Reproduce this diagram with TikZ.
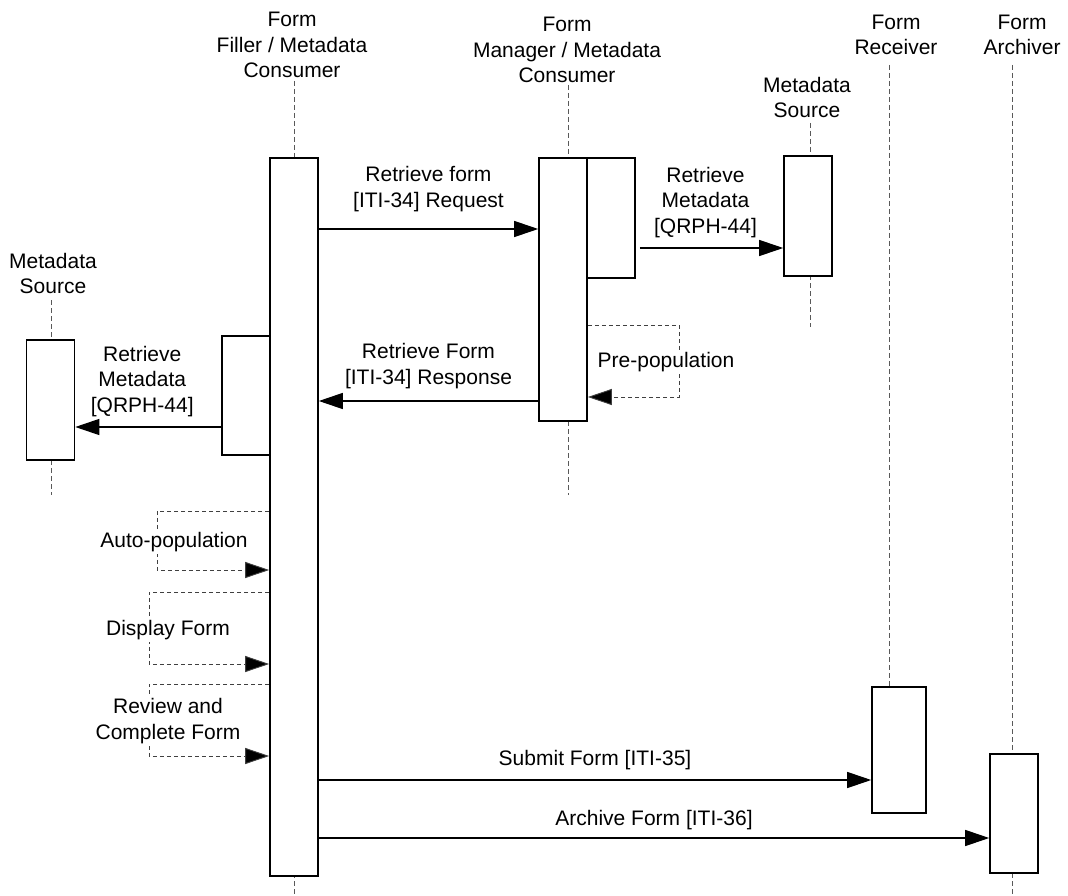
\documentclass[tikz,border=0pt]{standalone}
\usepackage{fontspec}
\setmainfont{Liberation Sans}
\usetikzlibrary{arrows.meta, positioning}

\begin{document}
\begin{tikzpicture}[x=1pt, y=-1pt,
        font=\fontsize{21}{25.5}\selectfont,
        head/.style={align=center, anchor=south, inner sep=0pt},
        actbox/.style={rectangle, draw=black, fill=white, line width=1.6pt, minimum width=48pt, inner sep=0pt, anchor=north},
        life/.style={draw=black!65, line width=1pt, dash pattern=on 5pt off 3pt},
        msg/.style={-{Triangle[length=24pt, width=16pt]}, line width=1.2pt, black},
        selfmsg/.style={-{Triangle[length=24pt, width=16pt, fill=black]}, line width=0.9pt, draw=black!75, dash pattern=on 4pt off 3pt},
        lbl/.style={align=center, inner sep=0pt, text=black},
        looplbl/.style={align=center, fill=white, inner sep=2pt, text=black}
    ]
    \useasboundingbox (0,0) rectangle (1068,896);

    \node[head] (fillerhead) at (292,78) {Form\\Filler / Metadata\\Consumer};
    \node[head] (mgrhead) at (567,83) {Form\\Manager / Metadata\\Consumer};
    \node[head] (msrchead) at (807,118) {Metadata\\Source};
    \node[head] (recvhead) at (896,55) {Form\\Receiver};
    \node[head] (archhead) at (1022,55) {Form\\Archiver};
    \node[head] (msrcLhead) at (53,294) {Metadata\\Source};

    \coordinate (fillertop) at (294,81);
    \coordinate (fillerend) at (294,896);
    \coordinate (mgrtop) at (568,85);
    \coordinate (mgrend) at (568,495);
    \coordinate (msrctop) at (810,123);
    \coordinate (msrcend) at (810,327);
    \coordinate (recvtop) at (889,65);
    \coordinate (archtop) at (1012,65);
    \coordinate (archend) at (1012,896);
    \coordinate (msrcLtop) at (51,300);
    \coordinate (msrcLend) at (51,495);

    \draw[life] (fillertop) -- (fillerend);
    \draw[life] (mgrtop) -- (mgrend);
    \draw[life] (msrctop) -- (msrcend);
    \draw[life] (recvtop) -- (recvtop |- 0,686);
    \draw[life] (archtop) -- (archend);
    \draw[life] (msrcLtop) -- (msrcLend);

    \node[actbox, minimum height=718pt] (filler) at (294,157) {};
    \node[actbox, minimum height=119pt] (fillsub) at (246,335) {};
    \node[actbox, minimum height=263pt] (mgr) at (563,157) {};
    \node[actbox, minimum height=120pt] (mgrsub) at (611,157) {};
    \node[actbox, minimum height=120pt] (msrc) at (808,155) {};
    \node[actbox, minimum height=120pt] (msrcL) at (50.5,339) {};
    \node[actbox, minimum width=54pt, minimum height=126pt] (recv) at (899,686) {};
    \node[actbox, minimum height=119pt] (arch) at (1014,753) {};

    \draw[msg] (filler.east |- 0,229) -- (mgr.west |- 0,229)
        node[lbl, midway, above=17pt] {Retrieve form\\{[ITI-34]} Request};
    \draw[msg] ([xshift=4pt]mgrsub.east |- 0,248) -- (msrc.west |- 0,248)
        node[lbl, midway, above=10pt, xshift=-6pt] {Retrieve\\Metadata\\{[QRPH-44]}};
    \draw[msg] (mgr.west |- 0,401) -- (filler.east |- 0,401)
        node[lbl, midway, above=12pt] {Retrieve Form\\{[ITI-34]} Response};
    \draw[msg] (fillsub.west |- 0,427) -- (msrcL.east |- 0,427)
        node[lbl, midway, above=10pt, xshift=-6pt] {Retrieve\\Metadata\\{[QRPH-44]}};
    \draw[msg] (filler.east |- 0,780) -- (recv.west |- 0,780)
        node[lbl, midway, above=10pt] {Submit Form [ITI-35]};
    \draw[msg] (filler.east |- 0,838) -- (arch.west |- 0,838)
        node[lbl, midway, above=8pt] {Archive Form [ITI-36]};

    \draw[selfmsg] (mgr.east |- 0,325) -- (679,325) -- (679,397) -- (mgr.east |- 0,397);
    \node[looplbl] (prepop) at (666,362) {Pre-population};
    \draw[selfmsg] (filler.west |- 0,511) -- (157,511) -- (157,570) -- (filler.west |- 0,570);
    \node[looplbl] (autopop) at (174,542) {Auto-population};
    \draw[selfmsg] (filler.west |- 0,592) -- (149,592) -- (149,664) -- (filler.west |- 0,664);
    \node[looplbl] (display) at (168,630) {Display Form};
    \draw[selfmsg] (filler.west |- 0,684) -- (149,684) -- (149,756) -- (filler.west |- 0,756);
    \node[looplbl] (review) at (168,721) {Review and\\Complete Form};
\end{tikzpicture}
\end{document}
